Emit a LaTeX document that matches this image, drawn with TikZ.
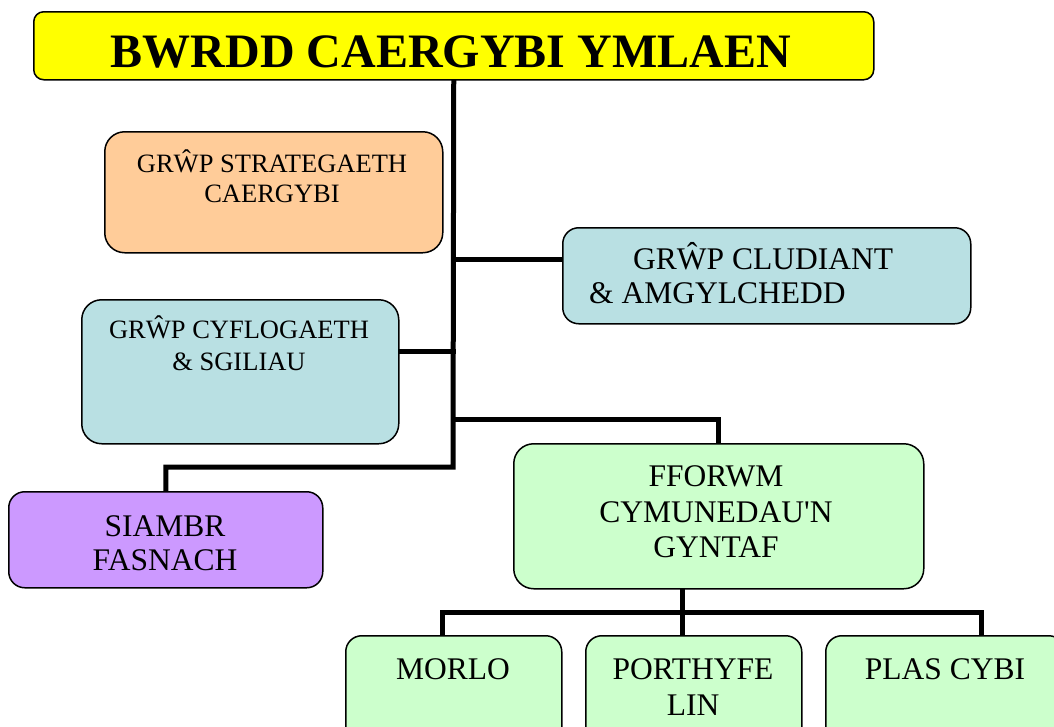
\documentclass[tikz,border=0pt]{standalone}
\usepackage{fontspec}
\setmainfont{Liberation Serif}
\usetikzlibrary{backgrounds}
\definecolor{cyellow}{HTML}{FFFF00}
\definecolor{corange}{HTML}{FFCC99}
\definecolor{cblue}{HTML}{B9E0E3}
\definecolor{cpurple}{HTML}{CC99FF}
\definecolor{cgreen}{HTML}{CCFFCC}
\tikzset{
  box/.style={draw=black, line width=1.5pt, rounded corners=20pt, inner sep=0pt, anchor=north west},
  conn/.style={draw=black, line width=5pt, line join=miter, line cap=rect},
  big/.style={font=\fontsize{31.5}{36}\selectfont, anchor=base, inner sep=0pt},
  mid/.style={font=\fontsize{26.5}{30}\selectfont, anchor=base, inner sep=0pt},
}
\begin{document}
\begin{tikzpicture}[x=1pt,y=-1pt]
\useasboundingbox (0,0) rectangle (1054,726);
% boxes
\node[box, fill=cyellow, rounded corners=10pt, minimum width=840pt, minimum height=68pt] (title) at (33,11) {};
\node[box, fill=corange, minimum width=338pt, minimum height=121pt] (strat) at (104,131) {};
\node[box, fill=cblue, minimum width=317pt, minimum height=144pt] (cyflog) at (81,299) {};
\node[box, fill=cblue, minimum width=408pt, minimum height=96pt, rounded corners=16pt] (clud) at (562,227) {};
\node[box, fill=cpurple, minimum width=314pt, minimum height=96pt, rounded corners=16pt] (siambr) at (8,491) {};
\node[box, fill=cgreen, minimum width=410pt, minimum height=145pt] (fforwm) at (513,443) {};
\node[box, fill=cgreen, minimum width=216pt, minimum height=120pt, rounded corners=16pt] (morlo) at (345,635) {};
\node[box, fill=cgreen, minimum width=216pt, minimum height=120pt, rounded corners=16pt] (porth) at (585,635) {};
\node[box, fill=cgreen, minimum width=239pt, minimum height=120pt, rounded corners=16pt] (plas) at (825,635) {};
% texts
\node[anchor=base, inner sep=0pt, font=\fontsize{48}{52}\selectfont\bfseries] (ttitle) at (451,67) {BWRDD CAERGYBI YMLAEN};
\node[mid] (tstrat1) at (272,172) {GRŴP STRATEGAETH};
\node[mid] (tstrat2) at (272,202) {CAERGYBI};
\node[mid] (tcyf1) at (239,338) {GRŴP CYFLOGAETH};
\node[mid] (tcyf2) at (239,370) {\& SGILIAU};
\node[big, anchor=base west] (tclud1) at (633,269) {GRŴP CLUDIANT};
\node[big, anchor=base west] (tclud2) at (589,303) {\& AMGYLCHEDD};
\node[big] (tsia1) at (165,536) {SIAMBR};
\node[big] (tsia2) at (165,570) {FASNACH};
\node[big] (tff1) at (716,486) {FFORWM};
\node[big] (tff2) at (716,522) {CYMUNEDAU\textquotesingle N};
\node[big] (tff3) at (716,557) {GYNTAF};
\node[big] (tmor) at (453,679) {MORLO};
\node[big] (tpor1) at (693,679) {PORTHYFE};
\node[big] (tpor2) at (693,715) {LIN};
\node[big] (tplas) at (945,679) {PLAS CYBI};
% connector points
\coordinate (trunk) at (453,467);
\coordinate (j2) at (453,259);
\coordinate (j3) at (453,351);
\coordinate (j4) at (453,419);
\coordinate (fb) at (682,588);
\coordinate (bL) at (442,612);
\coordinate (bR) at (981,612);
\begin{scope}[on background layer]
\draw[conn] (title.south) -- (trunk) -| (siambr.north);
\draw[conn] (j2) -- (j2 -| clud.west);
\draw[conn] (j3) -- (j3 -| cyflog.east);
\draw[conn] (j4) -| (fforwm.north);
\draw[conn] (fb) -- (fb |- porth.north);
\draw[conn] (bL |- morlo.north) -- (bL) -- (bR) -- (bR |- plas.north);
\end{scope}
\end{tikzpicture}
\end{document}
